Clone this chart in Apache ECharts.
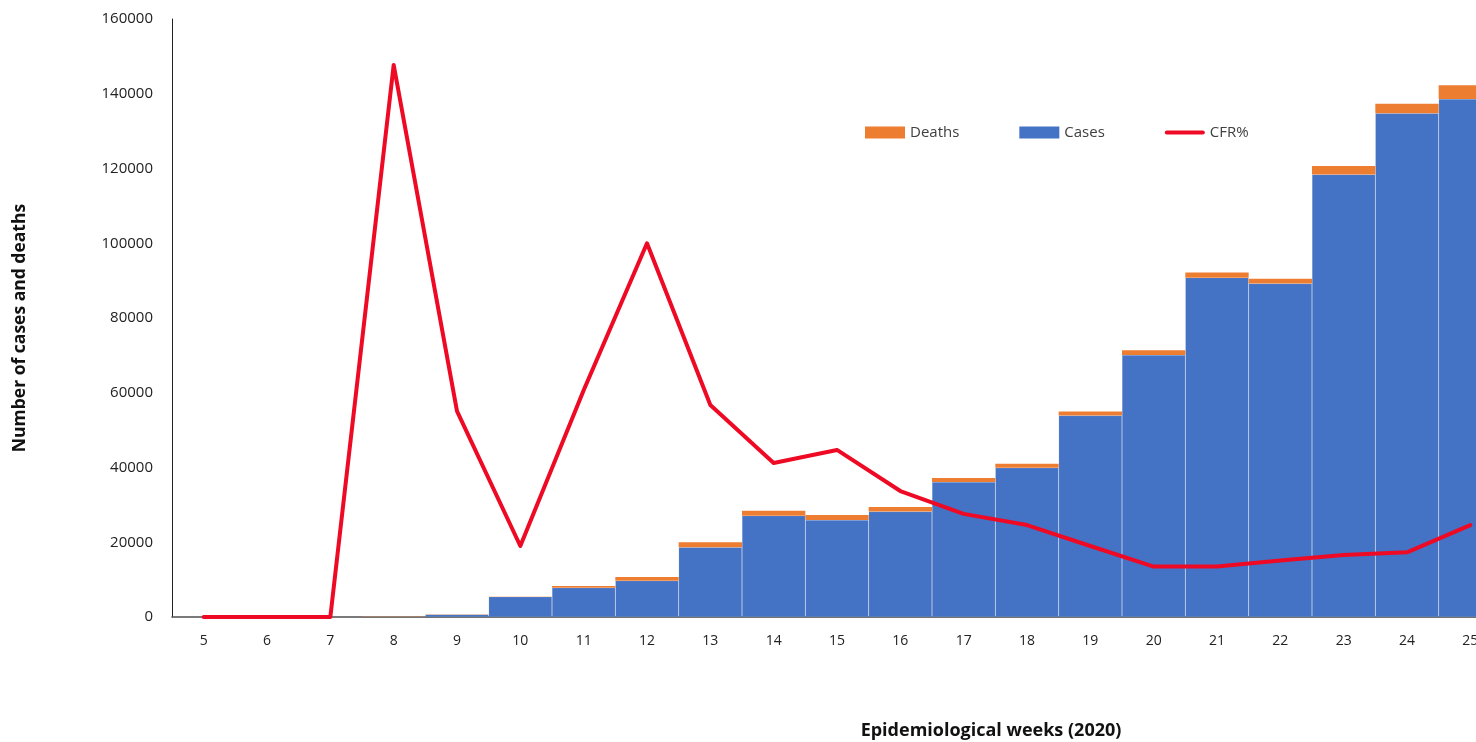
<!DOCTYPE html>
<html>
<head>
<meta charset="utf-8">
<script src="https://cdn.jsdelivr.net/npm/echarts@6/dist/echarts.min.js"></script>
<style>html,body{margin:0;padding:0;background:#fff;overflow:hidden;width:1476px;height:742px;}#c{width:1502px;height:742px;}</style>
</head>
<body>
<div id="c"></div>
<script>
var weeks = ['5','6','7','8','9','10','11','12','13','14','15','16','17','18','19','20','21','22','23','24','25'];
var cases = [0,0,0,150,650,5400,7800,9700,18650,27100,25950,28200,36100,39900,53900,70100,90800,89200,118400,134800,138600];
var deaths = [0,0,0,30,60,100,500,1000,1350,1300,1350,1200,1100,1100,1100,1300,1400,1300,2300,2500,3700];
var cfr = [0,0,0,14.77,5.51,1.90,6.07,10.0,5.67,4.12,4.47,3.37,2.76,2.46,1.90,1.35,1.35,1.51,1.66,1.73,2.46];
var yTicks = [0,20000,40000,60000,80000,100000,120000,140000,160000];

var font = '"Open Sans", "Noto Sans", sans-serif';
var chart = echarts.init(document.getElementById('c'), null, {renderer:'canvas'});
chart.setOption({
  animation:false,
  backgroundColor:'#ffffff',
  textStyle:{fontFamily:font},
  grid:{left:172, top:19, bottom:125, right:0, containLabel:false},
  legend:{
    left:860, top:120, itemWidth:40, itemHeight:12, itemGap:60,
    textStyle:{fontFamily:font, fontSize:15, color:'#404040'},
    data:[
      {name:'Deaths', icon:'rect'},
      {name:'Cases', icon:'rect'},
      {name:'CFR%', icon:'path://M2,0 h36 a2,2 0 0 1 0,4 h-36 a2,2 0 0 1 0,-4 z'}
    ],
    itemStyle:{borderWidth:0}
  },
  xAxis:{
    type:'category', data:weeks,
    axisLine:{lineStyle:{color:'#404040', width:1.5}},
    axisTick:{show:false},
    axisLabel:{fontFamily:font, fontSize:14, color:'#222', margin:17}
  },
  yAxis:[{
    type:'value', min:0, max:160000, interval:20000,
    axisLine:{show:true, lineStyle:{color:'#222', width:1}},
    axisTick:{show:false},
    splitLine:{show:false},
    axisLabel:{fontFamily:font, fontSize:15, color:'#222', margin:19,
      formatter:function(v){ return yTicks.indexOf(v) >= 0 ? String(v) : ''; }}
  },{
    type:'value', min:0, max:16, show:false, splitLine:{show:false}
  }],
  graphic:[{
    type:'text', x:991, y:731,
    style:{text:'Epidemiological weeks (2020)', textAlign:'center', textVerticalAlign:'middle',
      font:'bold 18px ' + font, fill:'#111'}
  },{
    type:'text', x:20, y:328, rotation:Math.PI/2,
    style:{text:'Number of cases and deaths', textAlign:'center', textVerticalAlign:'middle',
      font:'bold 17.5px ' + font, fill:'#111'}
  }],
  series:[
    {name:'Cases', type:'bar', stack:'t', data:cases, barCategoryGap:'0%', barGap:'0%',
      itemStyle:{color:'#4472C4', borderColor:'rgba(255,255,255,0.2)', borderWidth:0.5}},
    {name:'Deaths', type:'bar', stack:'t', data:deaths,
      itemStyle:{color:'#ED7D31', borderWidth:0}},
    {name:'CFR%', type:'line', yAxisIndex:1, data:cfr, showSymbol:false, smooth:false, z:5,
      lineStyle:{color:'#EE0A24', width:4, join:'round', cap:'round'}, itemStyle:{color:'#EE0A24'}}
  ]
});
</script>
</body>
</html>
